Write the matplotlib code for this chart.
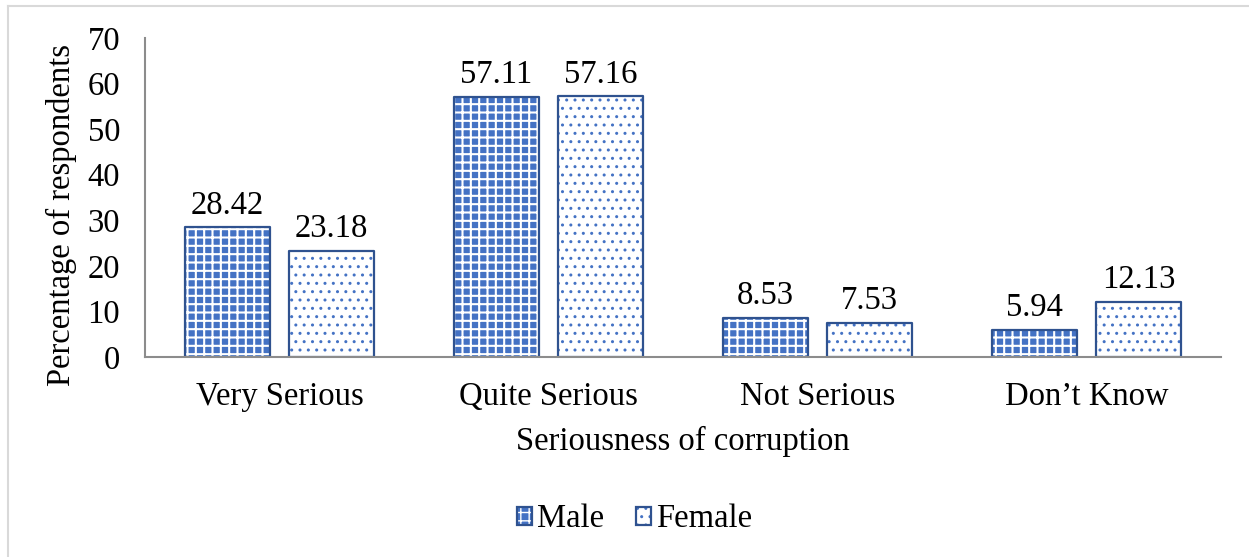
import numpy as np
import matplotlib
matplotlib.use('Agg')
import matplotlib.pyplot as plt
from matplotlib.lines import Line2D

# Datos del grafico
categories = ['Very Serious', 'Quite Serious', 'Not Serious', 'Don\u2019t Know']
male = [28.42, 57.11, 8.53, 5.94]
female = [23.18, 57.16, 7.53, 12.13]
y_ticks = [0, 10, 20, 30, 40, 50, 60, 70]

blue = '#4472C4'
navy = '#2F528F'
grey = '#8C8C8C'
fs = 23.5

plt.rcParams['font.family'] = ['Liberation Serif', 'DejaVu Serif']
plt.rcParams['font.size'] = fs

fig = plt.figure(figsize=(12.49, 5.57), dpi=100)
ax = fig.add_axes([0.1161, 0.3591, 0.8615, 0.5727])

x = np.arange(len(categories))
w = 0.316
off = 0.193

# Barras Male: fondo azul con rejilla blanca
with plt.rc_context({'hatch.linewidth': 1.5}):
    m_fill = ax.bar(x - off, male, w, color=blue, edgecolor='white', hatch='++', linewidth=0)
for p in m_fill:
    if hasattr(p, 'set_hatch_linewidth'):
        p.set_hatch_linewidth(1.5)
m_edge = ax.bar(x - off, male, w, fill=False, edgecolor=navy, linewidth=1.6, joinstyle='round')

# Barras Female: fondo blanco con puntos azules
with plt.rc_context({'hatch.linewidth': 1.0}):
    f_fill = ax.bar(x + off, female, w, color='white', edgecolor=blue, hatch='..', linewidth=0)
for p in f_fill:
    if hasattr(p, 'set_hatch_linewidth'):
        p.set_hatch_linewidth(1.0)
f_edge = ax.bar(x + off, female, w, fill=False, edgecolor=navy, linewidth=1.6, joinstyle='round')

# Etiquetas de valores
for xs, vals in ((x - off, male), (x + off, female)):
    for xi, v in zip(xs, vals):
        ax.annotate(f'{v:.2f}', (xi, v), xytext=(0, 5), textcoords='offset points',
                    ha='center', va='bottom', fontsize=fs)

ax.set_xlim(-0.5, 3.5)
ax.set_ylim(0, 70)
ax.set_yticks(y_ticks)
ax.set_xticks(x)
ax.set_xticklabels(categories)
ax.tick_params(axis='both', length=0)
ax.tick_params(axis='x', pad=18)
ax.tick_params(axis='y', pad=18)

for s in ['top', 'right']:
    ax.spines[s].set_visible(False)
for s in ['left', 'bottom']:
    ax.spines[s].set_color(grey)
    ax.spines[s].set_linewidth(1.5)

ax.set_xlabel('Seriousness of corruption', fontsize=fs)
ax.xaxis.set_label_coords(0.5, -0.215)
ax.set_ylabel('Percentage of respondents', fontsize=fs)
ax.yaxis.set_label_coords(-0.063, 0.445)

fig.legend([(m_fill, m_edge), (f_fill, f_edge)], ['Male', 'Female'],
           loc='center', bbox_to_anchor=(0.508, 0.068), ncol=2, frameon=False,
           handlelength=0.45, handleheight=0.45, handletextpad=0.15,
           columnspacing=1.0, fontsize=fs)

# Marco gris claro (solo arriba e izquierda)
fig.add_artist(Line2D([8 / 1249, 1], [1 - 6 / 557, 1 - 6 / 557], transform=fig.transFigure,
                      color='#D9D9D9', linewidth=1.5))
fig.add_artist(Line2D([8 / 1249, 8 / 1249], [0, 1 - 6 / 557], transform=fig.transFigure,
                      color='#D9D9D9', linewidth=1.5))

fig.savefig('out.png', dpi=100)
